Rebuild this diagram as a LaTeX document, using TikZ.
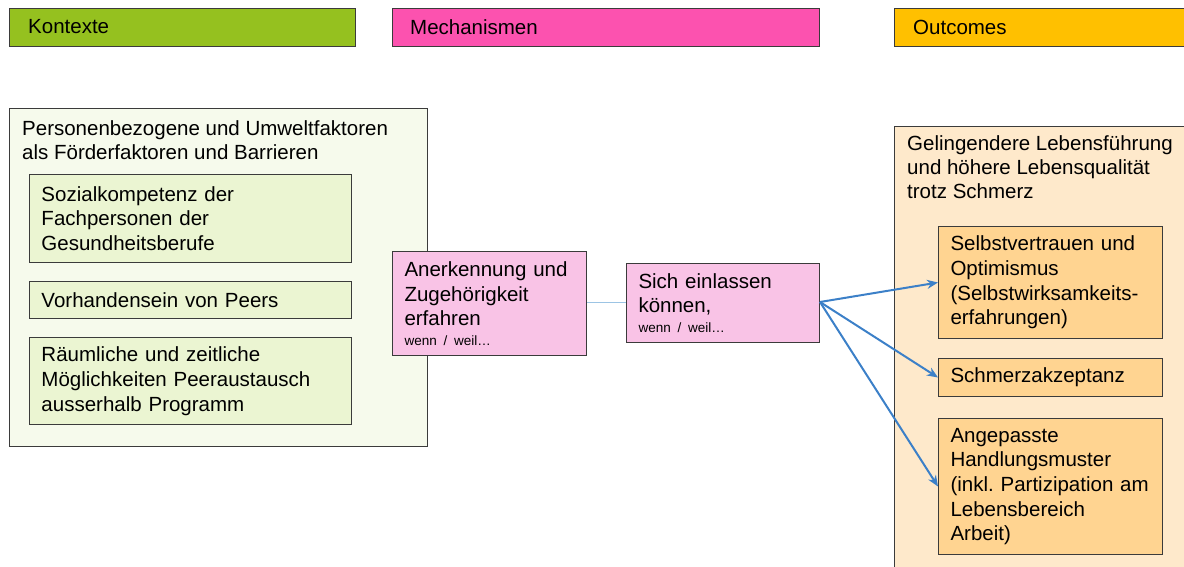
\documentclass[tikz,border=0pt]{standalone}
\usepackage{fontspec}
\setmainfont{Liberation Sans}
\usetikzlibrary{arrows.meta}
\frenchspacing

\definecolor{kgreen}{HTML}{95C11F}
\definecolor{mpink}{HTML}{FC52AF}
\definecolor{ogold}{HTML}{FFC000}
\definecolor{ctxbg}{HTML}{F6FAEC}
\definecolor{ctxbox}{HTML}{EBF5D2}
\definecolor{mechbox}{HTML}{F9C3E6}
\definecolor{outbg}{HTML}{FEE9CB}
\definecolor{outbox}{HTML}{FFD491}
\definecolor{edge}{HTML}{3B3B3B}
\definecolor{arrowblue}{HTML}{3C80C8}
\definecolor{linkblue}{HTML}{9CC4E4}

\newcommand{\condtext}[1]{{\fontsize{13.5}{15}\selectfont #1}}

\tikzset{
  x=1pt, y=-1pt,
  frame/.style={draw=edge, line width=1pt, anchor=north west, inner sep=0pt},
  header/.style={frame, minimum height=38pt,
                 font=\fontsize{20.5}{24.5}\selectfont},
  headtext/.style={anchor=west, inner sep=0pt, font=\fontsize{20.5}{24.5}\selectfont},
  item/.style={frame, align=left, inner xsep=12pt, inner ysep=0pt,
               font=\fontsize{20.5}{24.7}\selectfont},
  title/.style={anchor=north west, inner sep=0pt, align=left,
                font=\fontsize{20.5}{24}\selectfont},
  flow/.style={draw=arrowblue, line width=2pt,
               -{Stealth[length=11pt,width=9pt]}},
}

\begin{document}
\begin{tikzpicture}
\useasboundingbox (0,0) rectangle (1184,567);
\clip (0,0) rectangle (1184,567);

% column headers
\node[header, fill=kgreen, minimum width=346pt] (hK) at (9,8) {};
\node[headtext] (hKt) at (28,27) {Kontexte};
\node[header, fill=mpink, minimum width=427pt] (hM) at (392,8) {};
\node[headtext] (hMt) at (410,27) {Mechanismen};
\node[header, fill=ogold, minimum width=320pt] (hO) at (894,8) {};
\node[headtext] (hOt) at (913,27) {Outcomes};

% context column
\node[frame, fill=ctxbg, minimum width=418pt, minimum height=338pt] (ctx) at (9,108) {};
\node[title] (ctxt) at (22,120) {Personenbezogene und Umweltfaktoren\\als Förderfaktoren und Barrieren};
\node[item, fill=ctxbox, minimum width=322pt, minimum height=88pt, text width=298pt] (c1) at (29,174)
  {Sozialkompetenz der\\Fachpersonen der\\Gesundheitsberufe};
\node[item, fill=ctxbox, minimum width=322pt, minimum height=37pt, text width=298pt] (c2) at (29,281)
  {Vorhandensein von Peers};
\node[item, fill=ctxbox, minimum width=322pt, minimum height=87pt, text width=298pt] (c3) at (29,337)
  {Räumliche und zeitliche\\Möglichkeiten Peeraustausch\\ausserhalb Programm};

% mechanisms
\node[item, fill=mechbox, minimum width=194pt, minimum height=104pt, text width=170pt] (m1) at (392,251)
  {Anerkennung und\\Zugehörigkeit\\erfahren\\[-5pt]\condtext{wenn / weil\dots}};
\node[item, fill=mechbox, minimum width=193pt, minimum height=79pt, text width=169pt] (m2) at (626,263)
  {Sich einlassen\\können,\\[-5pt]\condtext{wenn / weil\dots}};

% outcomes column
\node[frame, fill=outbg, minimum width=320pt, minimum height=480pt] (out) at (894,126) {};
\node[title] (outt) at (907,135) {Gelingendere Lebensführung\\und höhere Lebensqualität\\trotz Schmerz};
\node[item, fill=outbox, minimum width=224pt, minimum height=112pt, text width=200pt] (o1) at (938,226)
  {Selbstvertrauen und\\Optimismus\\(Selbstwirksamkeits-\\erfahrungen)};
\node[item, fill=outbox, minimum width=224pt, minimum height=38pt, text width=200pt] (o2) at (938,358)
  {Schmerzakzeptanz};
\node[item, fill=outbox, minimum width=224pt, minimum height=136pt, text width=200pt] (o3) at (938,418)
  {Angepasste\\Handlungsmuster\\(inkl. Partizipation am\\Lebensbereich\\Arbeit)};

% connections
\draw[linkblue, line width=1pt] (m1.east |- 0,302) -- (m2.west |- 0,302);
\coordinate (src) at (m2.east |- 0,302);
\draw[flow] (src) -- (o1.west);
\draw[flow] (src) -- (o2.west);
\draw[flow] (src) -- (o3.west);
\end{tikzpicture}
\end{document}
